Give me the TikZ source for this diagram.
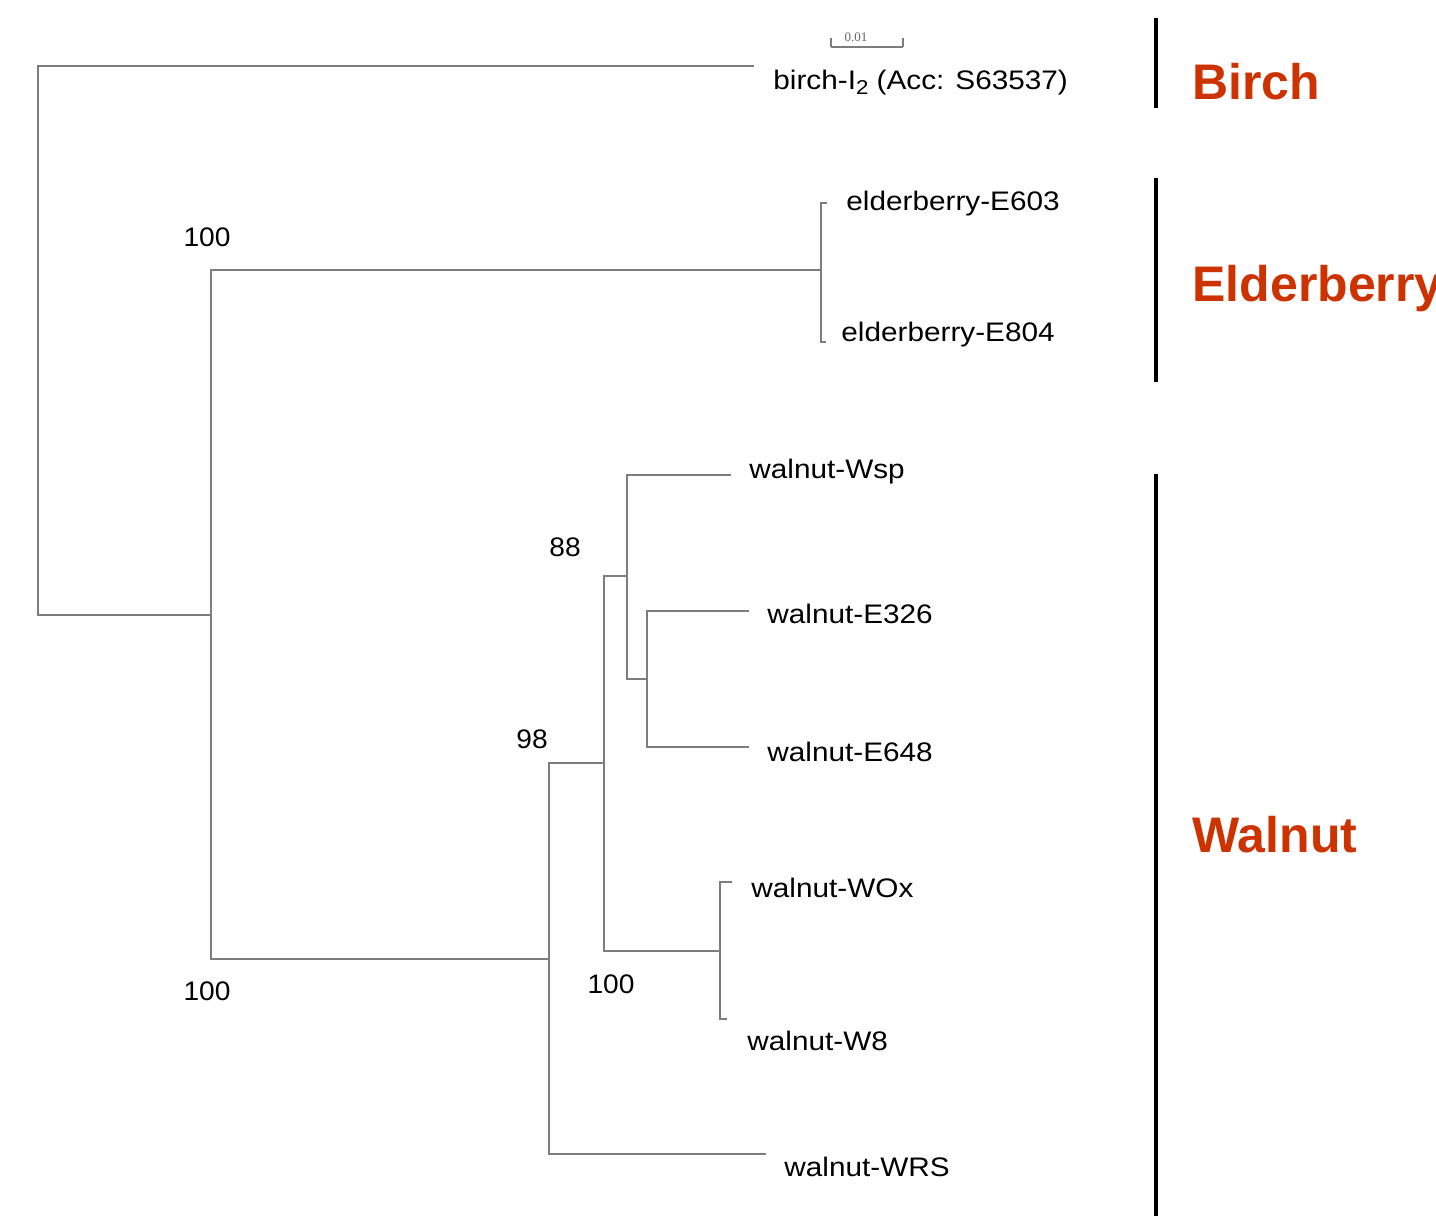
\documentclass[tikz,border=0pt]{standalone}
\usepackage{fontspec}
\setmainfont{Liberation Sans}
\newfontfamily\scalefont{Liberation Serif}
\newfontfamily\leaffont[FakeStretch=1.11]{Liberation Sans}
\newfontfamily\bootfont[FakeStretch=1.05]{Liberation Sans}
\definecolor{branch}{RGB}{125,125,125}
\definecolor{grp}{RGB}{204,51,0}
\tikzset{
  br/.style={draw=branch, line width=1.4pt, line cap=rect},
  leaf/.style={anchor=west, inner sep=0pt, font=\leaffont\fontsize{13.4}{16}\selectfont},
  boot/.style={inner sep=0pt, font=\bootfont\fontsize{13.4}{16}\selectfont},
  grpbar/.style={draw=black, line width=2pt},
  grplab/.style={anchor=west, inner sep=0pt, text=grp, font=\fontsize{25}{28}\selectfont\bfseries}
}
\begin{document}
\begin{tikzpicture}[x=0.5pt,y=-0.5pt]
\useasboundingbox (0,0) rectangle (1436,1216);
\clip (0,0) rectangle (1436,1216);
% internal nodes
\coordinate (root) at (38,615);
\coordinate (rootTop) at (38,66);
\coordinate (birchTip) at (753,66);
\coordinate (n1) at (211,615);
\coordinate (n1Top) at (211,270);
\coordinate (n1Bot) at (211,959);
\coordinate (eld) at (821,270);
\coordinate (eldTop) at (821,203);
\coordinate (eldBot) at (821,342);
\coordinate (eTipA) at (826,203);
\coordinate (eTipB) at (825,342);
\coordinate (wal) at (549,959);
\coordinate (walTop) at (549,763);
\coordinate (walBot) at (549,1154);
\coordinate (wrsTip) at (765,1154);
\coordinate (n98) at (604,763);
\coordinate (n98Top) at (604,576);
\coordinate (n98Bot) at (604,951);
\coordinate (n88) at (627,576);
\coordinate (n88Top) at (627,475);
\coordinate (n88Bot) at (627,679);
\coordinate (wspTip) at (730,475);
\coordinate (nE) at (647,679);
\coordinate (nETop) at (647,611);
\coordinate (nEBot) at (647,747);
\coordinate (e326Tip) at (748,611);
\coordinate (e648Tip) at (748,747);
\coordinate (nW) at (720,951);
\coordinate (nWTop) at (720,882);
\coordinate (nWBot) at (720,1019);
\coordinate (woxTip) at (731,882);
\coordinate (w8Tip) at (726,1019);
% branches
\path[br] (birchTip) -- (rootTop) -- (root) -- (n1);
\path[br] (n1Top) -- (n1Bot);
\path[br] (n1Top) -- (eld);
\path[br] (eTipA) -- (eldTop) -- (eldBot) -- (eTipB);
\path[br] (n1Bot) -- (wal);
\path[br] (walTop) -- (walBot) -- (wrsTip);
\path[br] (walTop) -- (n98);
\path[br] (n98Top) -- (n98Bot);
\path[br] (n98Top) -- (n88);
\path[br] (wspTip) -- (n88Top) -- (n88Bot) -- (nE);
\path[br] (e326Tip) -- (nETop) -- (nEBot) -- (e648Tip);
\path[br] (n98Bot) -- (nW);
\path[br] (woxTip) -- (nWTop) -- (nWBot) -- (w8Tip);
% scale bar
\coordinate (sbL) at (831,47);
\coordinate (sbR) at (903,47);
\draw[branch, line width=1pt] (sbL) -- (sbR);
\draw[branch, line width=1pt] (sbL) -- ++(0,-9);
\draw[branch, line width=1pt] (sbR) -- ++(0,-9);
\node[inner sep=0pt, text=branch!80!black, font=\scalefont\fontsize{6.5}{7}\selectfont] (sbLab) at (856,37) {0.01};
% leaf labels
\node[leaf] (birch) at (773,83) {birch-I\raisebox{-0.35ex}{\fontsize{10}{12}\selectfont 2} (Acc: S63537)};
\node[leaf] (e603) at (846,204) {elderberry-E603};
\node[leaf] (e804) at (841,335) {elderberry-E804};
\node[leaf] (wsp) at (749,472) {walnut-Wsp};
\node[leaf] (e326) at (767,614) {walnut-E326};
\node[leaf] (e648) at (767,752) {walnut-E648};
\node[leaf] (wox) at (751,888) {walnut-WOx};
\node[leaf] (w8) at (747,1041) {walnut-W8};
\node[leaf] (wrs) at (784,1167) {walnut-WRS};
% bootstrap values
\node[boot] (b1) at (207,237) {100};
\node[boot] (b2) at (565,547) {88};
\node[boot] (b3) at (532,739) {98};
\node[boot] (b4) at (611,984) {100};
\node[boot] (b5) at (207,991) {100};
% group bars
\coordinate (gbA1) at (1156,18);
\coordinate (gbA2) at (1156,108);
\coordinate (gbB1) at (1156,178);
\coordinate (gbB2) at (1156,382);
\coordinate (gbC1) at (1156,474);
\coordinate (gbC2) at (1156,1216);
\draw[grpbar] (gbA1) -- (gbA2);
\draw[grpbar] (gbB1) -- (gbB2);
\draw[grpbar] (gbC1) -- (gbC2);
\node[grplab] (gBirch) at (1192,82) {Birch};
\node[grplab] (gEld) at (1192,289) {Elderberry};
\node[grplab] (gWal) at (1192,835) {Walnut};
\end{tikzpicture}
\end{document}
